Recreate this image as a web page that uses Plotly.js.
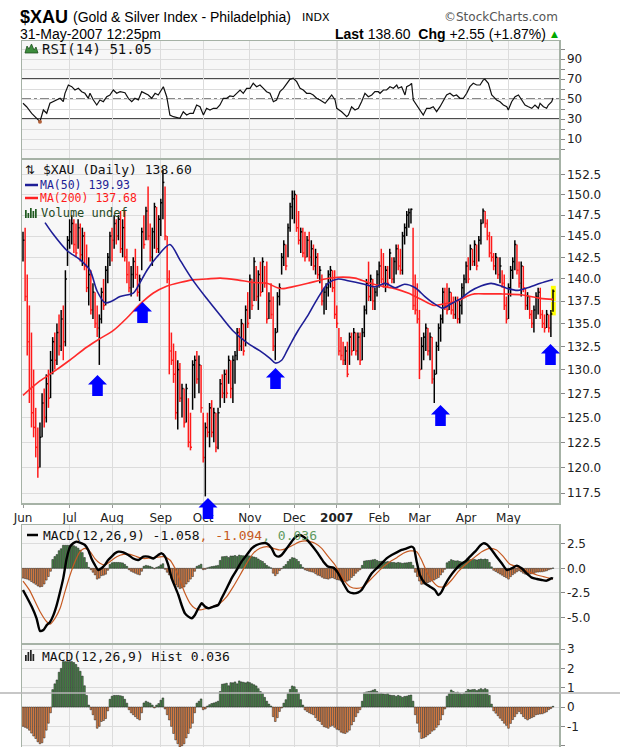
<!DOCTYPE html>
<html><head><meta charset="utf-8">
<script src="https://cdn.plot.ly/plotly-3.0.1.min.js"></script>
<style>html,body{margin:0;padding:0;background:#fff;}#chart{width:620px;height:747px;}</style>
</head><body><div id="chart"></div>
<script>
// ---------- DATA (trading-day index 0 = 1-Jun-2006 ... 250 = 31-May-2007) ----------
const monthStartIdx = [0,22,42,65,85,107,128,148,168,187,209,229];
const monthLabels = ['Jun','Jul','Aug','Sep','Oct','Nov','Dec','<b>2007</b>','Feb','Mar','Apr','May'];
const yearStartIdx = 148;

const highs = [
145.5,146.0,140.5,137.0,134.0,130.0,126.0,124.0,124.5,127.5,128.0,129.5,130.0,132.0,133.5,134.0,135.0,136.0,136.5,137.0,141.0,145.0,
147.0,147.5,147.0,146.5,147.0,146.5,146.0,145.5,144.0,142.5,141.0,139.5,138.5,137.0,136.0,139.0,140.0,141.5,143.0,145.5,
146.0,147.5,147.0,147.5,148.0,147.0,148.0,143.5,142.0,141.5,142.5,143.5,141.5,140.5,146.0,147.5,148.5,151.0,146.5,146.0,149.0,148.5,147.5,
149.5,153.0,151.0,145.0,141.0,134.0,132.8,132.0,131.0,130.7,128.5,128.0,128.5,127.0,125.5,131.0,131.5,132.0,131.5,130.5,
125.5,124.5,125.5,126.5,126.8,126.0,125.5,126.0,129.0,129.5,130.0,130.0,131.5,131.0,131.5,132.0,134.5,134.5,135.5,135.0,137.0,138.5,
140.5,140.0,142.5,141.5,141.0,142.0,142.5,141.5,142.0,138.5,139.5,138.0,134.5,138.5,139.5,143.0,144.5,144.0,146.5,149.0,150.5,
150.5,150.0,148.0,146.0,146.0,145.5,145.0,145.5,144.5,144.0,143.5,143.0,141.5,140.5,139.0,139.5,141.0,141.5,141.0,141.0,
137.0,134.5,133.5,133.0,132.5,133.0,134.0,134.0,134.5,134.0,134.0,134.0,134.5,137.0,140.0,142.0,140.5,140.0,139.0,141.0,
142.0,143.5,143.0,141.5,141.5,143.5,142.5,142.5,144.0,144.0,143.5,145.5,146.5,148.0,148.3,148.3,146.0,140.5,139.5,
136.5,133.5,134.0,135.0,134.5,134.0,133.5,130.0,133.0,135.0,136.0,139.0,139.0,139.5,139.0,138.5,138.0,138.0,138.0,137.5,139.5,140.5,
142.0,142.5,144.0,143.5,144.5,144.0,145.0,147.0,148.3,148.0,147.0,145.5,145.0,143.0,143.0,142.5,142.5,141.0,140.5,138.0,
139.5,141.5,142.5,144.5,144.0,142.0,142.0,141.5,139.0,138.5,138.0,136.5,137.0,138.5,139.0,139.0,136.5,136.0,136.5,136.0,136.5,138.8];
const lows = [
142.0,137.5,131.5,126.5,124.0,123.0,121.0,119.0,120.0,123.0,124.0,124.5,126.0,127.0,129.5,130.0,130.5,131.5,132.0,131.0,132.5,141.5,
143.5,144.0,143.0,142.5,143.5,142.0,141.5,141.0,138.5,137.0,136.0,135.5,134.5,133.5,130.5,135.0,136.5,137.0,139.5,141.5,
142.0,143.5,144.0,144.5,143.0,142.5,142.0,139.5,138.5,138.0,139.0,140.0,138.0,137.5,141.0,143.5,144.5,144.5,142.0,141.5,143.5,143.0,143.0,
145.0,147.0,144.5,139.5,129.5,130.5,128.6,124.8,123.8,126.6,125.0,124.0,124.5,122.0,121.7,125.8,127.0,128.5,127.5,125.5,
120.5,117.2,123.0,122.0,123.0,122.5,121.5,121.8,126.0,127.0,126.5,127.0,128.5,127.0,126.5,128.5,131.0,132.0,132.0,131.5,132.5,134.5,
135.5,136.5,137.5,137.5,136.5,138.0,138.5,139.0,135.0,135.5,135.5,132.0,131.0,134.0,137.0,140.5,141.5,141.0,142.5,145.5,147.0,
146.5,145.5,144.0,143.0,142.5,142.0,142.5,142.0,141.5,141.0,140.5,140.0,139.5,137.0,136.0,136.5,138.0,139.0,138.5,135.5,
134.5,131.5,131.0,130.5,130.5,129.2,130.5,131.5,132.0,131.5,131.0,130.5,131.0,133.5,136.0,137.5,137.5,136.5,136.5,138.0,
139.0,139.5,139.0,138.5,139.0,140.0,139.5,139.5,140.5,141.0,140.5,140.5,144.0,145.0,146.0,146.5,136.5,136.0,135.0,
129.0,130.0,131.0,132.0,131.5,131.0,128.5,126.5,129.5,132.0,133.0,135.0,136.5,136.0,136.5,136.0,135.5,135.5,135.0,135.0,136.0,138.0,
139.5,139.5,141.0,141.5,141.5,141.0,142.0,144.0,146.5,146.0,144.5,142.5,142.0,141.0,140.5,140.0,139.5,139.0,136.5,135.0,
135.5,138.0,140.0,141.0,140.5,139.0,138.0,138.5,136.5,136.5,135.5,134.5,134.0,135.5,136.0,135.5,134.5,134.0,134.5,134.0,133.5,136.3];
const closes = [
144.5,138.0,133.0,128.0,125.5,124.0,122.0,120.0,123.0,126.5,125.0,128.5,127.0,131.0,133.0,131.0,134.0,132.5,135.5,133.0,140.0,144.5,
145.5,146.5,144.0,143.0,146.0,142.8,145.0,141.5,139.0,140.5,136.5,138.5,135.0,134.5,135.5,138.5,137.0,141.0,142.5,145.0,
144.5,146.5,145.0,147.0,143.5,146.0,142.5,140.5,139.0,140.5,142.0,140.5,138.5,140.0,145.5,144.0,148.0,145.0,142.5,145.5,148.5,143.5,147.0,
149.0,151.5,145.0,140.0,132.0,131.0,129.5,125.5,130.0,127.0,128.0,124.5,128.0,122.5,122.0,130.5,131.0,129.0,130.5,126.0,
121.0,124.0,123.5,126.0,123.5,125.5,122.0,125.5,128.5,127.5,129.5,127.5,131.0,128.0,131.0,131.5,134.0,132.5,135.0,132.0,136.5,135.0,
140.0,137.0,142.0,138.0,140.5,138.5,142.0,139.5,135.5,137.5,136.0,132.5,134.0,138.0,139.0,142.5,144.0,141.5,146.0,148.5,149.5,
150.0,146.0,144.5,145.5,143.0,142.5,144.5,142.5,143.5,141.5,142.5,140.5,141.0,137.5,138.5,139.0,140.5,141.0,139.0,136.0,
135.0,132.0,131.5,131.0,132.0,129.5,133.5,132.0,134.0,132.0,133.5,131.0,134.0,136.5,139.5,138.0,140.0,137.5,138.5,140.5,
141.5,140.0,139.5,141.0,139.5,143.0,140.0,142.0,143.5,141.5,141.0,145.0,146.0,147.5,147.8,148.2,137.0,136.5,135.5,
130.0,132.5,133.5,134.5,132.0,133.5,129.0,129.5,132.5,134.5,135.5,138.5,137.0,136.5,138.5,136.5,136.0,137.5,135.5,137.0,139.0,140.0,
141.5,140.0,143.5,142.0,144.0,141.5,144.5,146.5,148.0,146.5,145.0,143.0,142.5,141.5,142.5,140.5,141.5,139.5,137.0,135.5,
139.0,141.0,142.0,144.0,141.0,139.5,141.5,139.0,137.0,138.0,136.0,135.0,136.5,138.0,138.5,136.0,135.0,134.5,136.0,134.5,136.05,138.6];

const ma50Days = [10.4,14,20.7,27,31.6,35,38.7,42,45.8,52,55,58.5,63,69.3,74,80,86.6,93,99,105.6,111.8,116.5,119,122,124.5,127,129.7,134.4,139,143.9,148.6,153.3,161,166,170.8,175.5,180,185,189.6,194,198,202,206.6,211,216,220.8,225.5,228.8,233.5,238,244,250];
const ma50Vals = [146.6,145.3,143.3,142.2,141.0,138.6,137.3,137.5,138.0,138.4,139.5,141.0,142.5,144.0,142.2,139.9,137.8,135.9,134.2,132.9,132.0,131.2,130.7,131.0,132.0,133.1,134.2,135.9,137.8,139.5,140.0,139.8,139.4,139.1,139.5,139.0,139.4,139.0,138.0,137.2,136.7,137.2,137.8,138.6,139.2,139.5,139.2,138.9,138.7,139.0,139.5,139.93];
const ma200Days = [0,8,14,22,30,36,42.5,49,55,61.5,68,74,80,86.6,93,101,108.5,115,120,122.6,127,134.4,142.5,148.6,156.6,162.7,168.9,175.5,181.6,187.7,194,199,205,210,213,219.3,225.5,235,244,250];
const ma200Vals = [127.3,128.8,129.7,131.0,132.4,133.3,134.2,135.6,137.1,138.4,139.2,139.6,139.9,140.0,140.1,139.9,139.6,139.5,139.0,138.9,139.1,139.5,140.0,140.2,140.1,139.6,139.2,138.9,138.4,137.7,137.0,137.2,137.5,138.1,138.3,138.3,138.3,138.2,137.8,137.68];

const rsiDays = [0,1.7,4.1,6.4,8.0,9.6,11.2,12.7,14.3,15.9,17.5,19.0,19.8,21.4,23.0,24.5,26.1,27.7,29.2,30.8,31.6,33.2,34.8,36.3,37.9,39.5,41.0,42.6,44.2,45.8,48.1,49.7,51.3,52.8,54.4,56.0,57.5,59.1,60.7,62.3,63.8,66.2,67.8,69.3,70.9,72.5,74.0,75.6,77.2,78.8,80.3,81.9,83.5,85.1,86.6,88.2,89.8,91.4,92.9,94.5,96.1,97.6,99.2,100.8,102.4,103.9,105.5,107.1,108.6,110.2,111.8,113.4,114.9,116.5,118.1,119.6,121.2,122.8,124.4,125.9,127.5,129.1,130.7,132.2,133.8,135.4,136.9,138.5,140.1,142.5,144.0,145.6,147.2,148.0,150.3,152.7,153.5,155.0,156.6,158.2,159.7,161.3,162.9,164.5,166.0,167.6,168.4,170.0,171.5,173.1,174.7,176.3,177.0,178.6,180.2,181.0,182.5,183.3,184.1,185.7,187.2,188.8,190.4,192.0,193.5,195.1,196.7,198.2,199.8,201.4,203.0,204.5,206.1,207.7,209.3,210.8,212.4,214.0,215.6,217.1,217.9,219.5,221.1,221.9,223.4,225.0,226.6,228.2,228.9,230.5,232.1,233.7,235.2,236.8,238.4,240.0,241.5,243.1,243.9,245.5,247.0,247.8,249.4,250];
const rsiVals = [45.7,42.3,35.7,30.7,27.3,39,35.7,45.7,47.3,49,50.7,47.3,55.7,64,62.3,59,60.7,57.3,55.7,50.7,55.7,49,44,49,47.3,52.3,54,59,55.7,57.3,56.3,50.7,47.3,50.7,49,57.3,55.7,54,50.7,55.7,54,62.3,52.3,34,32.3,31.7,30.7,37.3,34,35.7,35.7,44,42.3,34,40.7,39,40.7,40.7,44,50.7,50.7,53,52.3,55.7,59,55.7,60.7,60.7,65.7,62.3,64,60.7,57.3,55.7,47.3,49,57.3,60.7,65.7,69.7,70.7,67.3,60.7,59,55.7,55.7,54,50.7,49,45.7,49.7,54,49,40.7,37.3,32.3,34,42.3,39,40.7,47.3,55.7,52.3,54,57.3,57.3,55.7,59,59,62.3,60.7,64,60.7,62.3,54,62.3,64,65.7,49,44,39,34,40.7,40.7,42.3,37.3,42.3,47.3,54,55.7,53,54,50.7,50.7,55.7,62.3,65.7,64,64,69,69.7,65.7,54,52.3,49,47.3,44,42.3,39,47.3,52.3,54,49,44,42.3,40.7,44,40.7,45.7,42.3,40.7,44,47.3,51.05];

const macdDays = [0,1.7,4.1,6.4,8.0,9.6,11.2,12.7,14.3,15.9,17.5,19.0,20.6,22.2,23.7,25.3,27.7,29.2,30.8,32.3,33.9,35.5,37.0,38.6,40.2,41.8,43.4,45.0,47.3,49.7,52.0,54.4,56.8,59.1,61.5,63.8,65.4,67.0,68.5,70.1,71.7,73.3,74.8,76.4,78.0,79.6,81.1,82.7,84.3,85.8,87.4,89.8,92.1,93.7,96.1,98.4,100.8,103.1,105.5,107.9,110.2,112.6,114.9,117.3,118.9,120.4,122.0,124.4,126.7,128.5,130.5,132.5,134.0,135.4,138.5,141.7,144.0,146.4,148.7,151.1,153.5,155.8,158.2,159.7,162.1,164.5,166.8,169.2,171.5,173.9,176.3,178.6,181.0,183.3,184.4,185.7,187.2,189.6,192.0,194.3,195.9,197.5,199.0,201.4,203.8,206.1,208.5,210.8,213.2,215.6,217.1,218.7,221.1,223.4,225.8,228.2,230.5,232.9,235.2,237.6,240.0,242.4,244.7,247.0,249.4,250];
const macdVals = [-2.21,-2.9,-3.9,-5.1,-6.4,-6.3,-5.8,-5.5,-4.8,-3.75,-2.4,-1.0,1.0,2.2,2.55,2.72,2.55,2.38,1.86,1.0,0.34,-0.17,0,0.34,0.85,1.19,1.53,1.7,1.63,1.36,1.0,0.85,1.19,1.19,1.0,1.36,1.53,1.19,0.34,-1.0,-1.87,-2.72,-3.74,-4.6,-4.93,-5.1,-4.76,-4.08,-3.57,-3.9,-4.08,-3.9,-3.74,-3.06,-2.04,-1.02,-0.17,0.68,1.36,2.04,2.38,2.55,2.55,2.04,1.36,1.19,1.36,2.04,2.72,3.2,3.4,3.2,2.9,2.55,1.7,0.68,0.17,0.07,-0.51,-1.53,-2.38,-2.55,-2.45,-2.21,-1.36,-0.51,0,0.51,1.02,1.36,1.63,1.87,2.04,2.21,2.04,0.68,-0.68,-1.53,-1.87,-2.21,-2.72,-2.38,-1.7,-0.85,-0.17,0.34,0.68,1.19,1.7,2.31,2.55,2.45,1.87,1.19,0.51,-0.17,0,0.27,0,-0.51,-0.95,-1.09,-1.19,-1.26,-1.02,-1.058];
const signalDays = [0,3,8,11.2,12.7,15.1,17.5,19.8,22.2,24.5,26.9,29.2,31.6,33.9,36.3,38.6,41.0,44.2,47.3,50.5,53.6,56.8,61.5,66.2,69.3,71.7,74.0,76.4,78.8,81.1,83.5,86.6,89.8,92.9,96.1,99.2,102.4,105.5,108.6,111.8,114.9,118.1,121.2,124.4,127.5,130.7,133.0,135.4,137.7,140.9,144.0,147.2,149.5,151.9,154.2,157.4,160.5,163.7,166.8,170.0,173.1,176.3,179.4,182.5,185.7,188.0,190.4,192.7,195.9,199.0,202.2,205.3,208.5,212.4,216.4,220.3,223.4,226.6,229.7,232.9,236.0,239.2,242.4,245.5,248.6,250];
const signalVals = [-1.3,-2.2,-4.4,-5.45,-5.7,-5.1,-4.08,-2.38,-0.68,0.68,1.7,2.04,1.7,1.0,0.51,0.34,0.68,1.19,1.43,1.43,1.19,1.0,1.09,1.19,0.85,0,-1.19,-2.55,-3.57,-4.08,-4.25,-4.08,-3.9,-3.57,-2.89,-1.87,-0.68,0.51,1.53,2.04,2.21,2.04,1.87,2.04,2.38,2.72,2.8,2.72,2.55,2.04,1.19,0.34,-0.51,-1.36,-1.87,-2.04,-1.87,-1.19,-0.51,0.17,0.68,1.09,1.53,1.77,1.7,0.85,-0.34,-1.19,-1.87,-1.87,-1.19,-0.34,0.34,1.02,1.7,2.04,1.87,1.19,0.41,0.17,-0.17,-0.41,-0.68,-0.85,-1.02,-1.094];
const histVals = [
-1.0,-1.05,-1.1,-1.2,-1.35,-1.5,-1.63,-1.8,-1.9,-1.85,-1.6,-1.2,-0.84,-0.3,
0.9,1.2,1.4,1.8,2.0,2.35,2.35,2.35,2.35,2.35,2.3,2.2,2.05,1.85,1.6,1.1,0.6,0.1,
-0.14,-0.4,-0.67,-1.1,-1.0,-0.75,-0.7,-0.6,-0.2,
0.4,0.56,0.6,0.6,0.6,0.58,0.55,0.4,0.2,
-0.14,-0.3,-0.4,-0.5,-0.6,-0.67,-0.3,
0.21,0.3,0.25,0.2,0.1,-0.05,0.1,0.18,0.35,0.47,
-0.1,-0.4,-0.67,-1.0,-1.37,-1.7,-1.9,-2.07,-2.0,-1.9,-1.6,-1.37,-1.1,-0.84,-0.3,
0.2,0.3,0.42,-0.14,-0.1,0.05,
0.12,0.18,0.21,0.25,0.3,0.8,1.18,1.2,1.23,1.1,1.26,1.25,1.3,1.2,1.35,1.3,1.28,1.25,1.3,1.26,1.2,1.15,1.09,0.95,0.8,0.7,0.5,0.3,0.15,0.05,
-0.5,-0.75,-0.55,-0.23,-0.05,
0.2,0.38,0.7,0.91,1.09,1.05,0.91,0.7,0.38,0.1,
-0.15,-0.23,-0.3,-0.35,-0.4,-0.55,-0.7,-0.75,-0.9,-1.02,-1.05,-1.1,-1.0,-0.95,-1.05,-1.15,-1.19,-1.3,-1.35,-1.37,-1.3,-1.2,-0.93,-0.75,-0.5,-0.3,-0.14,
0.3,0.74,0.78,0.8,0.82,0.87,0.91,0.8,0.7,0.72,0.68,0.65,0.7,0.62,0.6,0.6,0.55,0.6,0.56,0.5,0.55,0.56,0.6,0.62,0.3,
-0.4,-0.84,-1.3,-1.63,-1.6,-1.54,-1.45,-1.37,-1.25,-1.19,-1.05,-0.93,-0.67,-0.4,-0.1,
0.56,0.7,0.88,0.8,0.75,0.77,0.7,0.65,0.7,0.8,0.91,0.88,0.9,0.91,0.85,0.9,0.95,0.9,0.95,0.9,0.6,0.15,
-0.2,-0.32,-0.45,-0.58,-0.7,-0.84,-0.95,-1.1,-0.85,-0.65,-0.5,-0.35,-0.23,-0.35,-0.5,-0.6,-0.67,-0.6,-0.55,-0.5,-0.4,-0.38,-0.36,-0.35,-0.3,-0.25,-0.14,-0.08,0.036];

const priceTicks = [117.5,120,122.5,125,127.5,130,132.5,135,137.5,140,142.5,145,147.5,150,152.5];
const rsiTicks = [0,10,20,30,40,50,60,70,80,90,100];
const macdTicks = [-5,-2.5,0,2.5];
const histTicks = [-2,-1,0,1,2,3];
// hand-drawn blue arrows (pixel positions of their tips on the picture)
const arrowTips = [[97.5,375],[142.5,302],[208,498],[275.5,368],[440.5,405],[550.5,344]];

// ---------- LAYOUT GEOMETRY ----------
const W = 620, H = 747;
const px = v => v / W, py = v => 1 - v / H;
const XDOM = [px(22), px(559)];
const XRANGE = [-0.47, 252.83];
const DOM_RSI = [py(158), py(41)], DOM_MAIN = [py(503), py(160)], DOM_MACD = [py(643), py(525)], DOM_HIST = [0, py(645)];
const GRID = '#dcdcdc', FRAME = '#a6b2a6';
const TICKFONT = {family: 'DejaVu Sans', size: 12, color: '#222'};
const MONO = 'DejaVu Sans Mono';

// ---------- TRACES ----------
const n = closes.length;
const bx = {up: [], dn: []}, by = {up: [], dn: []};
for (let i = 0; i < n; i++) {
  const k = (i === 0 || closes[i] >= closes[i - 1]) ? 'up' : 'dn';
  bx[k].push(i, i, null, i, i + 0.7, null);
  by[k].push(lows[i], highs[i], null, closes[i], closes[i], null);
}
const dayIdx = histVals.map((_, i) => i);
const histColors = histVals.map(v => v >= 0 ? '#4a8c4a' : '#f28a48');

const traces = [
  {x: rsiDays, y: rsiVals, xaxis: 'x', yaxis: 'y', type: 'scatter', mode: 'lines', line: {color: '#111', width: 1.2}, hoverinfo: 'skip'},
  {x: rsiDays.filter((d, k) => rsiVals[k] < 30), y: rsiVals.filter(v => v < 30), xaxis: 'x', yaxis: 'y', type: 'scatter', mode: 'markers', marker: {color: '#b0603a', size: 4}, hoverinfo: 'skip'},
  {x: bx.dn, y: by.dn, xaxis: 'x2', yaxis: 'y2', type: 'scatter', mode: 'lines', line: {color: '#ff1a1a', width: 1.5}, connectgaps: false, hoverinfo: 'skip'},
  {x: bx.up, y: by.up, xaxis: 'x2', yaxis: 'y2', type: 'scatter', mode: 'lines', line: {color: '#000', width: 1.5}, connectgaps: false, hoverinfo: 'skip'},
  {x: ma200Days, y: ma200Vals, xaxis: 'x2', yaxis: 'y2', type: 'scatter', mode: 'lines', line: {color: '#ff2a2a', width: 1.6, shape: 'spline', smoothing: 0.8}, hoverinfo: 'skip'},
  {x: ma50Days, y: ma50Vals, xaxis: 'x2', yaxis: 'y2', type: 'scatter', mode: 'lines', line: {color: '#1e1e96', width: 1.6, shape: 'spline', smoothing: 0.8}, hoverinfo: 'skip'},
  {x: dayIdx, y: histVals, xaxis: 'x3', yaxis: 'y3', type: 'bar', width: 0.8, marker: {color: histColors, line: {color: '#1a1a1a', width: 0.5}}, hoverinfo: 'skip'},
  {x: signalDays, y: signalVals, xaxis: 'x3', yaxis: 'y3', type: 'scatter', mode: 'lines', line: {color: '#c65a22', width: 1.2, shape: 'spline', smoothing: 0.6}, hoverinfo: 'skip'},
  {x: macdDays, y: macdVals, xaxis: 'x3', yaxis: 'y3', type: 'scatter', mode: 'lines', line: {color: '#000', width: 2.4, shape: 'spline', smoothing: 0.5}, hoverinfo: 'skip'},
  {x: dayIdx, y: histVals, xaxis: 'x4', yaxis: 'y4', type: 'bar', width: 0.8, marker: {color: histColors, line: {color: '#1a1a1a', width: 0.5}}, hoverinfo: 'skip'}
];

// ---------- AXES ----------
function xa(anchor, labels) {
  return {domain: XDOM, range: XRANGE, anchor: anchor, tickmode: 'array', tickvals: monthStartIdx, ticktext: monthLabels,
    showticklabels: labels, ticks: labels ? 'outside' : '', ticklen: 3, tickcolor: '#999',
    showgrid: true, gridcolor: GRID, gridwidth: 1, zeroline: false, showline: true, mirror: true,
    linecolor: FRAME, linewidth: 1.5, tickfont: TICKFONT, fixedrange: true};
}
function ya(anchor, domain, range, tickvals, ticktext, type) {
  return {domain: domain, range: range, type: type || 'linear', anchor: anchor, side: 'right', tickmode: 'array',
    tickvals: tickvals, ticktext: ticktext, ticks: 'outside', ticklen: 4, tickcolor: '#888',
    showgrid: true, gridcolor: GRID, gridwidth: 1, zeroline: false, showline: true, mirror: true,
    linecolor: FRAME, linewidth: 1.5, tickfont: TICKFONT, fixedrange: true};
}

// ---------- SHAPES ----------
const P = pts => 'M' + pts.map(p => px(p[0]).toFixed(5) + ',' + py(p[1]).toFixed(5)).join(' L') + ' Z';
const shapes = [
  {type: 'rect', xref: 'x', yref: 'y', x0: XRANGE[0], x1: XRANGE[1], y0: 30, y1: 70, fillcolor: '#ffffff', line: {width: 0}, layer: 'below'},
  {type: 'line', xref: 'x', yref: 'y', x0: XRANGE[0], x1: XRANGE[1], y0: 70, y1: 70, line: {color: '#111', width: 1.6}, layer: 'below'},
  {type: 'line', xref: 'x', yref: 'y', x0: XRANGE[0], x1: XRANGE[1], y0: 30, y1: 30, line: {color: '#111', width: 1.6}, layer: 'below'},
  {type: 'line', xref: 'x', yref: 'y', x0: XRANGE[0], x1: XRANGE[1], y0: 50, y1: 50, line: {color: '#111', width: 1, dash: 'dashdot'}, layer: 'below'},
  {type: 'rect', xref: 'x2', yref: 'y2', x0: n - 2.0, x1: n + 0.3, y0: lows[n - 1] * 0.997, y1: highs[n - 1] * 1.003, fillcolor: '#ffff00', line: {width: 0}, layer: 'below'},
  {type: 'line', xref: 'paper', yref: 'paper', x0: 0, x1: 1, y0: py(693), y1: py(693), line: {color: '#b4b4b4', width: 1.5}, layer: 'above'}
];
[['x','y',[-9,108]],['x2','y2',[116.57,154.3]],['x3','y3',[-7.62,4.42]],['x4','y4',[-2.07,3.21]]].forEach(([a, b, r]) => shapes.push(
  {type: 'line', xref: a, yref: b, x0: yearStartIdx, x1: yearStartIdx, y0: r[0], y1: r[1], line: {color: '#b8b8b8', width: 1.5}, layer: 'below'}));
arrowTips.forEach(([x, y]) => shapes.push({type: 'path', xref: 'paper', yref: 'paper', layer: 'above',
  path: P([[x, y], [x + 9.5, y + 9.5], [x + 5.3, y + 9.5], [x + 5.3, y + 21], [x - 5.3, y + 21], [x - 5.3, y + 9.5], [x - 9.5, y + 9.5]]),
  fillcolor: '#0000ff', line: {width: 0}}));
// legend icons
shapes.push({type: 'path', xref: 'paper', yref: 'paper', layer: 'above', path: P([[25,53],[27,46],[29,49],[31.5,44],[34,50],[36,47],[38,53]]), fillcolor: '#3c8c3c', line: {color: '#1f4f1f', width: 0.8}});
shapes.push({type: 'line', xref: 'paper', yref: 'paper', x0: px(25), x1: px(38), y0: py(185), y1: py(185), line: {color: '#1e1e96', width: 2.5}, layer: 'above'});
shapes.push({type: 'line', xref: 'paper', yref: 'paper', x0: px(25), x1: px(38), y0: py(198), y1: py(198), line: {color: '#ff2020', width: 2.5}, layer: 'above'});
shapes.push({type: 'line', xref: 'paper', yref: 'paper', x0: px(27), x1: px(38), y0: py(535), y1: py(535), line: {color: '#000', width: 2.5}, layer: 'above'});
[[25,210],[27.5,213],[30,208],[32.5,211],[35,209]].forEach(([x, t]) => shapes.push({type: 'rect', xref: 'paper', yref: 'paper', layer: 'above',
  x0: px(x), x1: px(x + 1.7), y0: py(218), y1: py(t), fillcolor: '#1f5a1f', line: {width: 0}}));
[[25,655],[27.5,652],[30,650],[32.5,654]].forEach(([x, t]) => shapes.push({type: 'rect', xref: 'paper', yref: 'paper', layer: 'above',
  x0: px(x), x1: px(x + 1.7), y0: py(661), y1: py(t), fillcolor: '#222', line: {width: 0}}));

// ---------- TEXT ----------
const last = n - 1;
const chg = closes[last] - closes[last - 1];
const pct = chg / closes[last - 1] * 100;
const sgn = v => (v >= 0 ? '+' : '') + v.toFixed(2);
function ann(text, x, y, font, xanchor) {
  return {text: text, x: px(x), y: py(y), xref: 'paper', yref: 'paper', xanchor: xanchor || 'left', yanchor: 'middle', showarrow: false, font: font, borderpad: 0};
}
const annotations = [
  ann('<b>$XAU</b>', 19, 16.5, {family: 'Liberation Sans', size: 18, color: '#000'}),
  ann('(Gold &amp; Silver Index - Philadelphia)', 72, 17, {family: 'Liberation Sans', size: 14, color: '#000'}),
  ann('INDX', 301, 18, {family: 'DejaVu Sans', size: 11, color: '#000'}),
  ann('©StockCharts.com', 559, 17, {family: 'DejaVu Sans', size: 12, color: '#555'}, 'right'),
  ann('31-May-2007 12:25pm', 19, 33.5, {family: 'Liberation Sans', size: 14, color: '#000'}),
  ann('<b>Last</b> ' + closes[last].toFixed(2) + '  <b>Chg</b> ' + sgn(chg) + ' (' + sgn(pct) + '%)', 547, 33.5, {family: 'Liberation Sans', size: 14, color: '#000'}, 'right'),
  ann('▲', 554, 34, {family: 'DejaVu Sans', size: 9, color: '#00a800'}, 'center'),
  ann('RSI(14) ' + rsiVals[rsiVals.length - 1].toFixed(2), 41, 48.5, {family: MONO, size: 14, color: '#111'}),
  ann('⇅', 24, 170, {family: 'DejaVu Sans', size: 12, color: '#111'}),
  ann('$XAU (Daily) ' + closes[last].toFixed(2), 42, 170, {family: MONO, size: 13, color: '#111'}),
  ann('MA(50) ' + ma50Vals[ma50Vals.length - 1].toFixed(2), 39, 185, {family: MONO, size: 11.5, color: '#1e1e96'}),
  ann('MA(200) ' + ma200Vals[ma200Vals.length - 1].toFixed(2), 39, 198.5, {family: MONO, size: 11.5, color: '#ff1a1a'}),
  ann('Volume undef', 40, 213, {family: MONO, size: 12, color: '#1f4a1f'}),
  ann('MACD(12,26,9) ' + macdVals[macdVals.length - 1].toFixed(3) +
      '<span style="color:#c65a22">, ' + signalVals[signalVals.length - 1].toFixed(3) + '</span>' +
      '<span style="color:#5f9a5f">, ' + histVals[histVals.length - 1].toFixed(3) + '</span>', 42, 535.5, {family: MONO, size: 13, color: '#111'}),
  ann('MACD(12,26,9) Hist ' + histVals[histVals.length - 1].toFixed(3), 41, 656, {family: MONO, size: 13, color: '#111'})
];

const layout = {
  width: W, height: H, margin: {l: 0, r: 0, t: 0, b: 0}, paper_bgcolor: '#ffffff', plot_bgcolor: '#f7f7f7',
  showlegend: false, bargap: 0, hovermode: false,
  xaxis: xa('y', false), xaxis2: xa('y2', true), xaxis3: xa('y3', false), xaxis4: xa('y4', false),
  yaxis: ya('x', DOM_RSI, [-9, 108], rsiTicks, rsiTicks.map(v => (v % 20 === 10) ? String(v) : '')),
  yaxis2: ya('x2', DOM_MAIN, [Math.log10(116.57), Math.log10(154.3)], priceTicks, priceTicks.map(v => v.toFixed(1)), 'log'),
  yaxis3: ya('x3', DOM_MACD, [-7.62, 4.42], macdTicks, macdTicks.map(v => v.toFixed(1))),
  yaxis4: ya('x4', DOM_HIST, [-2.07, 3.21], histTicks, histTicks.map(String)),
  shapes: shapes, annotations: annotations
};
Plotly.newPlot('chart', traces, layout, {displayModeBar: false, staticPlot: true});
</script></body></html>
